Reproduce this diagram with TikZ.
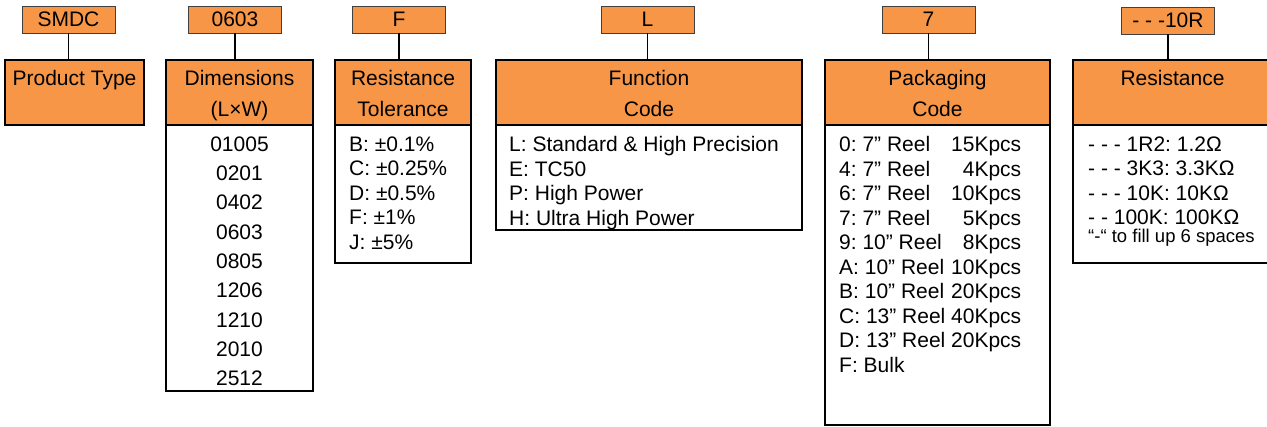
\documentclass[tikz,border=0pt]{standalone}
\usepackage{fontspec}
\setmainfont{Liberation Sans}
\usepackage{tikz}
\usetikzlibrary{positioning}
\definecolor{boxorange}{RGB}{247,150,70}
\frenchspacing
\newcommand{\hstrut}{\rule[-5pt]{0pt}{27pt}}
\newcommand{\hdr}[2]{\hstrut#1\\\hstrut#2}
\tikzset{
  code/.style={draw=black!75, line width=0.9pt, fill=boxorange, minimum width=93pt,
    minimum height=27pt, inner sep=0pt, font=\fontsize{21}{24}\selectfont},
  head/.style={draw, line width=2.6pt, fill=boxorange, minimum height=65pt, inner sep=0pt,
    outer sep=0pt, anchor=north west, align=center, font=\fontsize{21}{31}\selectfont},
  body/.style={draw, line width=2.6pt, fill=white, inner sep=0pt, outer sep=0pt, anchor=north west},
  item/.style={inner sep=0pt, anchor=north west, align=left, font=\fontsize{21}{24.5}\selectfont},
  link/.style={line width=1.3pt}
}

\begin{document}
\begin{tikzpicture}[x=1pt,y=-1pt]
    \clip (0,0) rectangle (1267,427);
    % code boxes
    \node[code] (smdc) at (68.5,19.5) {SMDC};
    \node[code] (size) at (235,19.5) {0603};
    \node[code] (tol) at (399,19.5) {F};
    \node[code] (func) at (647.5,19.5) {L};
    \node[code] (pack) at (928.5,19.5) {7};
    \node[code] (res) at (1168,20.5) {- - -10R};
    % headers
    \node[head, minimum width=139pt] (ptH) at (5,60) {\hdr{Product Type}{}};
    \node[head, minimum width=147pt] (dimH) at (166,60) {\hdr{Dimensions}{(L×W)}};
    \node[head, minimum width=136pt] (tolH) at (335,60) {\hdr{Resistance}{Tolerance}};
    \node[head, minimum width=306pt] (funcH) at (496,60) {\hdr{Function}{Code}};
    \node[head, minimum width=225pt] (packH) at (825,60) {\hdr{Packaging}{Code}};
    \node[head, minimum width=199pt] (resH) at (1073,60) {\hdr{Resistance}{}};
    % bodies
    \node[body, minimum width=147pt, minimum height=266pt] (dimB) at (dimH.south west) {};
    \node[body, minimum width=136pt, minimum height=138pt] (tolB) at (tolH.south west) {};
    \node[body, minimum width=306pt, minimum height=105pt] (funcB) at (funcH.south west) {};
    \node[body, minimum width=225pt, minimum height=300pt] (packB) at (packH.south west) {};
    \node[body, minimum width=199pt, minimum height=138pt] (resB) at (resH.south west) {};
    % links
    \foreach \c/\h in {smdc/ptH, size/dimH, tol/tolH, func/funcH, pack/packH, res/resH}
        \draw[link] (\c) -- (\c |- \h.north);
    % lists
    \node[item, anchor=north, align=center, font=\fontsize{21}{29.3}\selectfont] (dimL) at (239.5,136.5)
        {01005\\0201\\0402\\0603\\0805\\1206\\1210\\2010\\2512};
    \node[item] (tolL) at (349,136.5)
        {B: ±0.1\%\\C: ±0.25\%\\D: ±0.5\%\\F: ±1\%\\J: ±5\%};
    \node[item] (funcL) at (509,136.5)
        {L: Standard \& High Precision\\E: TC50\\P: High Power\\H: Ultra High Power};
    \node[item] (packL) at (839,134.3) {%
        \begin{tabular}{@{}l@{\hspace{5.8pt}}r@{}}
        0: 7” Reel & 15Kpcs\\
        4: 7” Reel & 4Kpcs\\
        6: 7” Reel & 10Kpcs\\
        7: 7” Reel & 5Kpcs\\
        9: 10” Reel & 8Kpcs\\
        A: 10” Reel & 10Kpcs\\
        B: 10” Reel & 20Kpcs\\
        C: 13” Reel & 40Kpcs\\
        D: 13” Reel & 20Kpcs\\
        F: Bulk &
        \end{tabular}};
    \node[item] (resL) at (1088,136.5)
        {- - - 1R2: 1.2Ω\\- - - 3K3: 3.3KΩ\\- - - 10K: 10KΩ\\- - 100K: 100KΩ\\[-6.5pt]%
        {\fontsize{18.5}{18}\selectfont “-“ to fill up 6 spaces}};
\end{tikzpicture}
\end{document}
